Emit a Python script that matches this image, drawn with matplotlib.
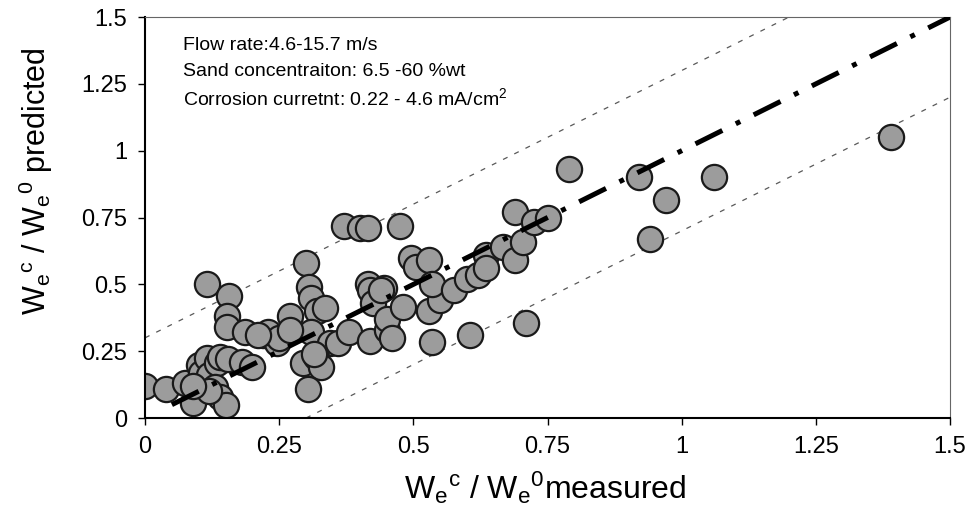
import matplotlib.pyplot as plt
import numpy as np

plt.rcParams['font.family'] = ['Liberation Sans', 'DejaVu Sans']
plt.rcParams['mathtext.default'] = 'regular'

# measured vs predicted
measured = [
    0.00, 0.04, 0.075, 0.09, 0.10, 0.105, 0.115, 0.12, 0.135, 0.14, 0.13, 0.14,
    0.15, 0.155, 0.18, 0.20, 0.12, 0.09,
    0.115, 0.157, 0.153, 0.153, 0.187, 0.22, 0.245, 0.23, 0.27, 0.30, 0.305,
    0.31, 0.32, 0.335, 0.31, 0.345, 0.36, 0.295, 0.318, 0.327, 0.303, 0.38,
    0.315, 0.25, 0.27, 0.21,
    0.37, 0.40, 0.415, 0.415, 0.42, 0.42, 0.45, 0.425, 0.45, 0.445, 0.475,
    0.48, 0.44, 0.46, 0.53, 0.55, 0.535, 0.495, 0.505, 0.53, 0.535, 0.575,
    0.60, 0.62, 0.635, 0.635, 0.667, 0.69, 0.705, 0.69, 0.725, 0.75, 0.605,
    0.71,
    0.79, 0.92, 0.94, 0.97, 1.06, 1.39,
]
predicted = [
    0.12, 0.11, 0.13, 0.055, 0.20, 0.17, 0.225, 0.16, 0.205, 0.23, 0.115, 0.08,
    0.05, 0.22, 0.21, 0.19, 0.10, 0.12,
    0.50, 0.455, 0.38, 0.34, 0.32, 0.31, 0.28, 0.32, 0.38, 0.58, 0.49,
    0.45, 0.40, 0.41, 0.32, 0.28, 0.28, 0.205, 0.23, 0.19, 0.11, 0.32,
    0.24, 0.30, 0.33, 0.31,
    0.72, 0.71, 0.71, 0.50, 0.48, 0.29, 0.33, 0.43, 0.37, 0.485, 0.72,
    0.415, 0.48, 0.30, 0.40, 0.44, 0.285, 0.60, 0.565, 0.59, 0.50, 0.48,
    0.52, 0.535, 0.61, 0.56, 0.64, 0.59, 0.66, 0.77, 0.735, 0.75, 0.31,
    0.355,
    0.93, 0.90, 0.67, 0.815, 0.90, 1.05,
]

ticks = [0, 0.25, 0.5, 0.75, 1, 1.25, 1.5]
tick_labels = ['0', '0.25', '0.5', '0.75', '1', '1.25', '1.5']
band = 0.3

fig = plt.figure(figsize=[9.74, 5.15], dpi=100)
ax = fig.add_axes([0.1489, 0.1883, 0.8265, 0.7786])

# +/- 0.3 band
ax.plot([0, 1.5 - band], [band, 1.5], color='0.35', lw=0.9,
        linestyle=(0, (4, 6)), zorder=1)
ax.plot([band, 1.5], [0, 1.5 - band], color='0.35', lw=0.9,
        linestyle=(0, (4, 6)), zorder=1)

ax.scatter(measured, predicted, s=330, facecolor='#9c9c9c',
           edgecolor='#1a1a1a', linewidth=1.6, zorder=2)

# 1:1 line
ax.plot([0.05, 1.5], [0.05, 1.5], color='k', lw=3.6,
        linestyle=(0, (6, 3, 1, 3)), zorder=3)

ax.set_xlim(0, 1.5)
ax.set_ylim(0, 1.5)
ax.set_xticks(ticks)
ax.set_xticklabels(tick_labels)
ax.set_yticks(ticks)
ax.set_yticklabels(tick_labels)
ax.tick_params(direction='out', length=5, width=1, labelsize=17, pad=8)

for s in ['left', 'bottom']:
    ax.spines[s].set_linewidth(1.5)
for s in ['top', 'right']:
    ax.spines[s].set_linewidth(0.8)
    ax.spines[s].set_color('0.4')

ax.set_xlabel(r'$W_e{}^c$ / $W_e{}^0$measured', fontsize=23)
ax.xaxis.set_label_coords(0.497, -0.128)
ax.set_ylabel(r'$W_e{}^c$ / $W_e{}^0$ predicted', fontsize=22)
ax.yaxis.set_label_coords(-0.112, 0.59)

notes = ['Flow rate:4.6-15.7 m/s',
         'Sand concentraiton: 6.5 -60 %wt',
         r'Corrosion curretnt: 0.22 - 4.6 mA/cm$^2$']
for i, t in enumerate(notes):
    ax.text(0.047, 0.93 - i * 0.066, t, transform=ax.transAxes,
            fontsize=14, va='center', ha='left')

plt.savefig('out.png', dpi=100)
plt.close(fig)
